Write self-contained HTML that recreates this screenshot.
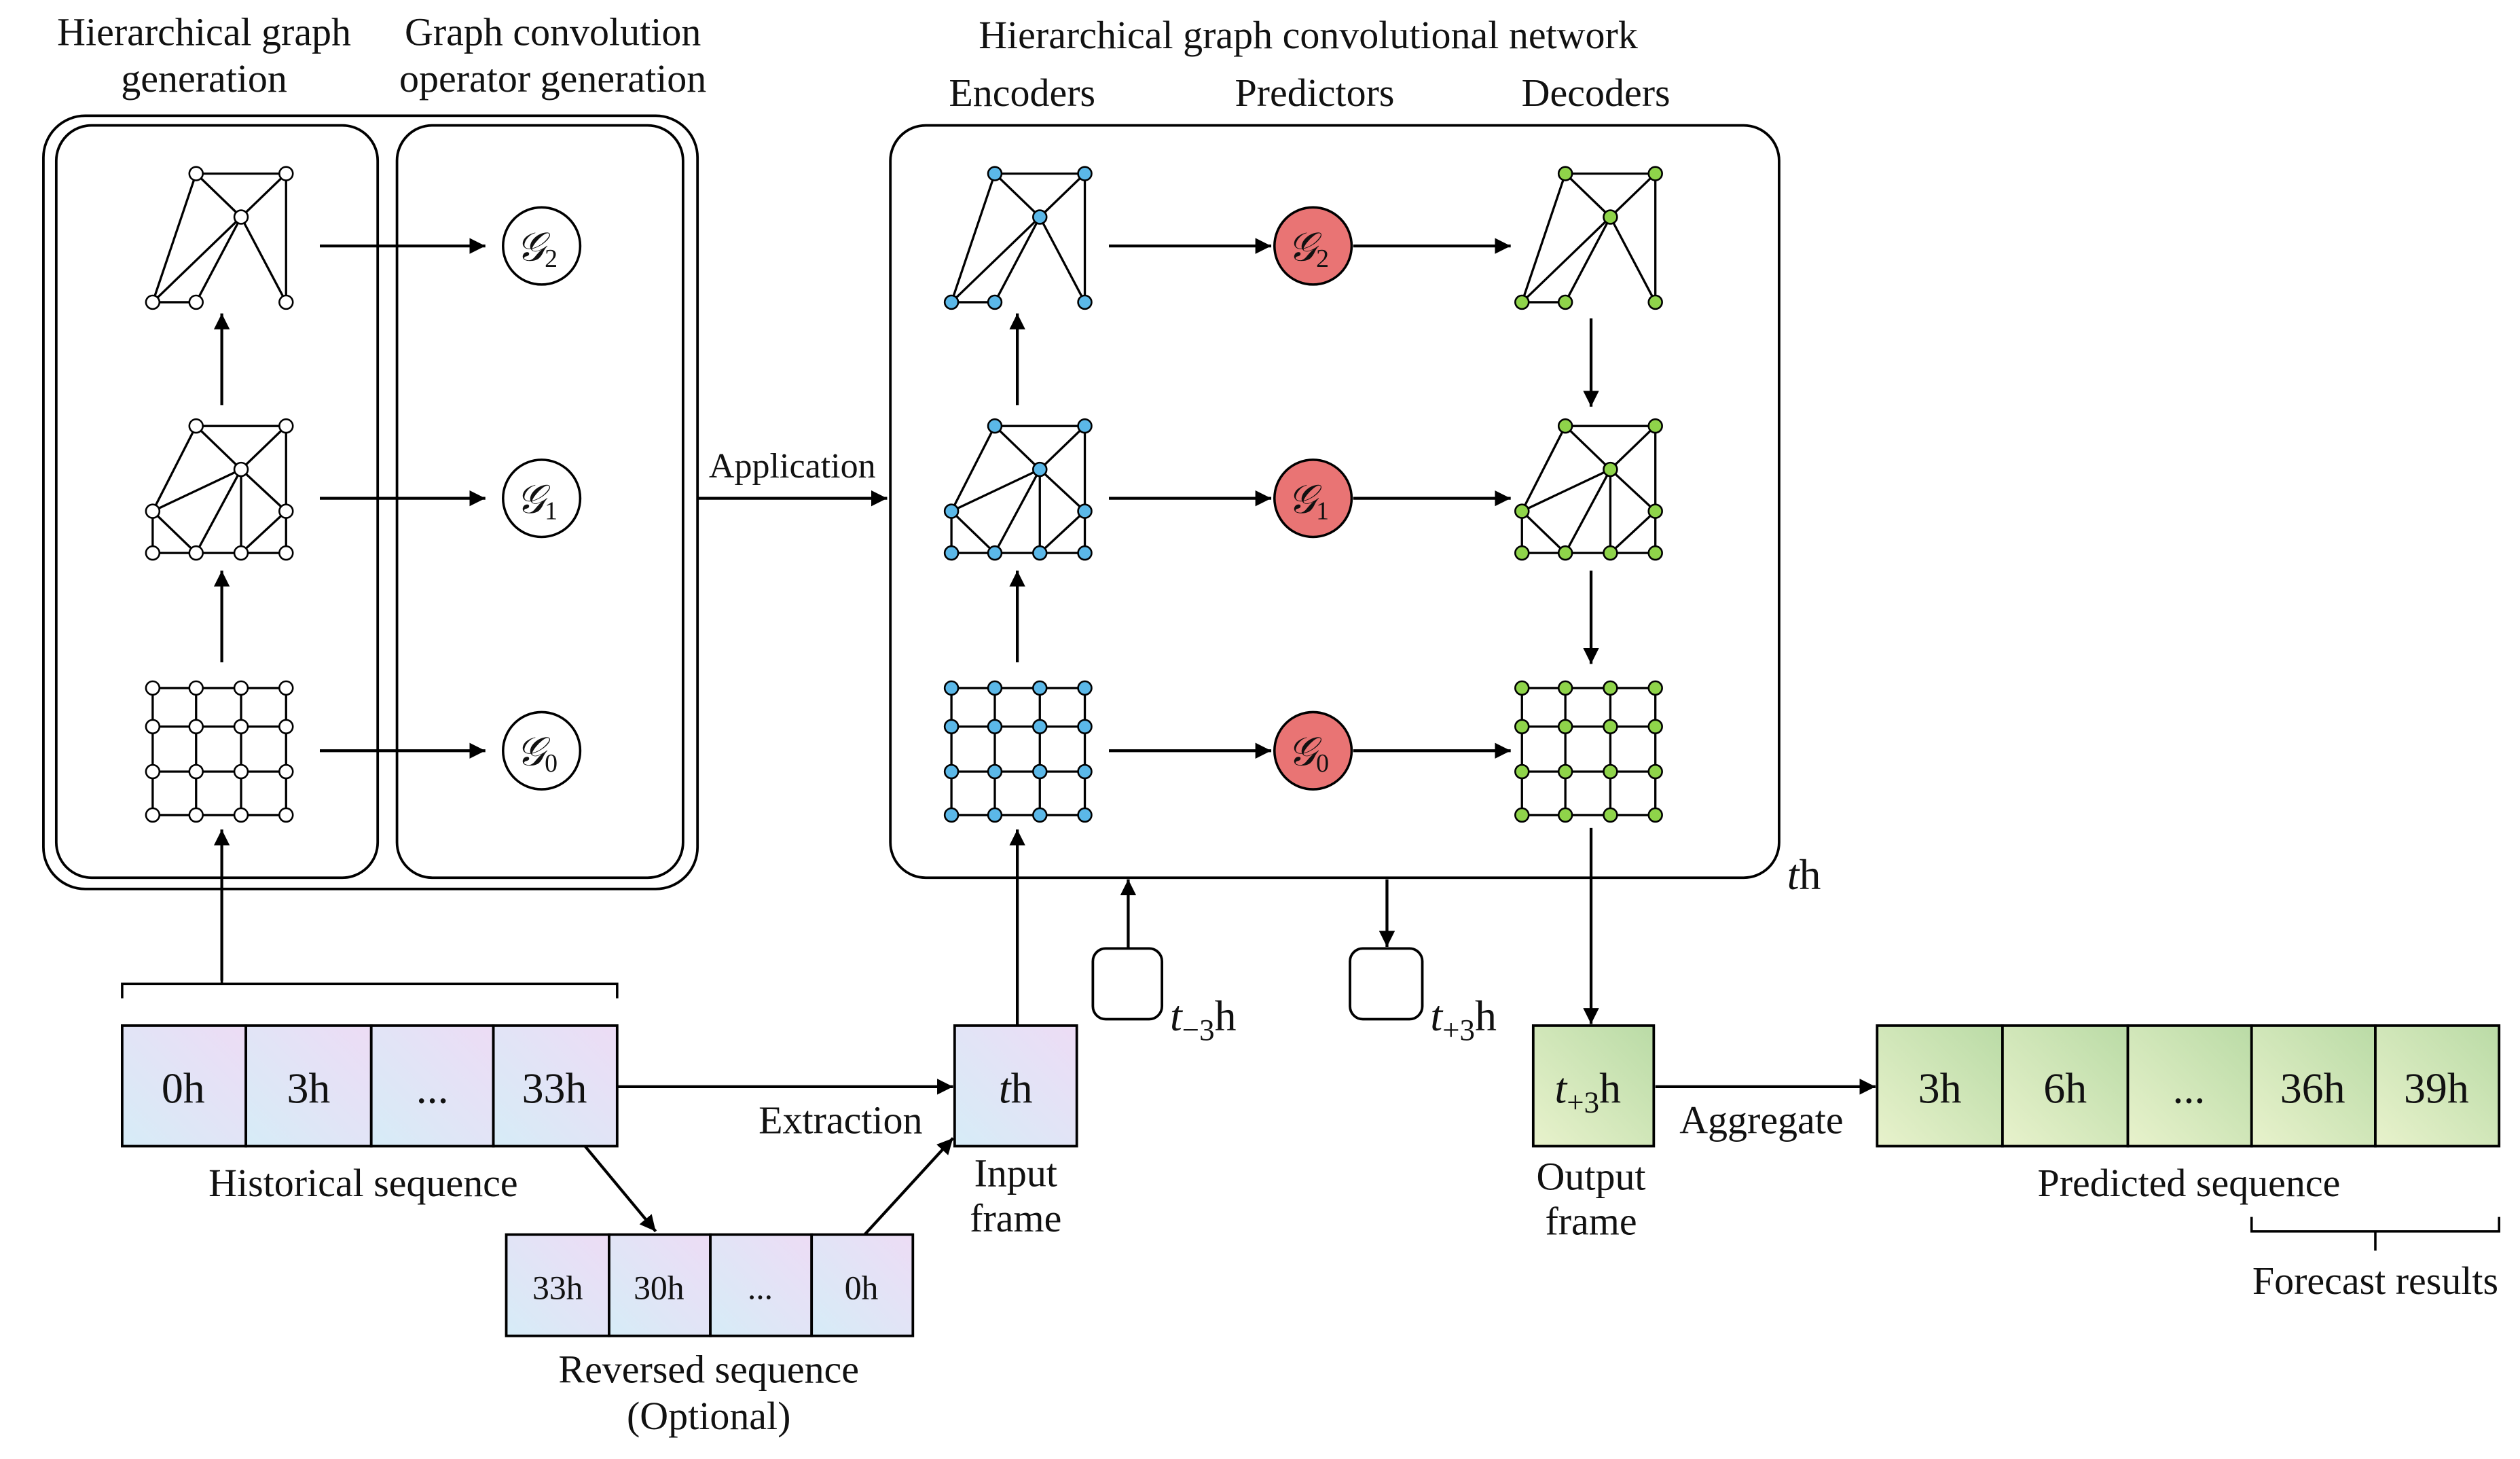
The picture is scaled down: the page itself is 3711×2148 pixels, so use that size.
<!DOCTYPE html>
<html><head><meta charset="utf-8"><style>
html,body{margin:0;padding:0;background:#fff;}
svg{display:block;}
text{font-family:"Liberation Serif",serif;fill:#111;}
</style></head><body>
<svg id="s" width="3711" height="2148" viewBox="0 0 1568 907.6" xmlns="http://www.w3.org/2000/svg">
<defs>
<marker id="ah" viewBox="0 0 10 10" refX="10" refY="5" markerWidth="5.5" markerHeight="5.5" orient="auto"><path d="M0,0 L10,5 L0,10 z" fill="#000"/></marker>
<linearGradient id="pg" x1="0" y1="1" x2="1" y2="0"><stop offset="0" stop-color="#d6ecf7"/><stop offset="1" stop-color="#eddcf5"/></linearGradient>
<linearGradient id="gg" x1="0" y1="1" x2="1" y2="0"><stop offset="0" stop-color="#e8f2cc"/><stop offset="1" stop-color="#badba6"/></linearGradient>
</defs>
<g fill="none" stroke="#000" stroke-width="1.6">
<rect x="27" y="72" width="407" height="481" rx="26"/>
<rect x="35" y="78" width="200" height="468" rx="22"/>
<rect x="247" y="78" width="178" height="468" rx="22"/>
<rect x="554" y="78" width="553" height="468" rx="22"/>
<rect x="680" y="590" width="43" height="44" rx="8"/>
<rect x="840" y="590" width="45" height="44" rx="8"/>
</g>
<g id="graphs" stroke="#000" stroke-width="1.4"></g>
<g stroke="#000" stroke-width="1.8" fill="none" marker-end="url(#ah)">
<line x1="199" y1="153" x2="302" y2="153"/><line x1="199" y1="310" x2="302" y2="310"/><line x1="199" y1="467" x2="302" y2="467"/>
<line x1="138" y1="252" x2="138" y2="195"/><line x1="138" y1="412" x2="138" y2="355"/><line x1="138" y1="610" x2="138" y2="516"/>
<line x1="434" y1="310" x2="552" y2="310"/>
<line x1="633" y1="252" x2="633" y2="195"/><line x1="633" y1="412" x2="633" y2="355"/><line x1="633" y1="638" x2="633" y2="516"/>
<line x1="690" y1="153" x2="791" y2="153"/><line x1="690" y1="310" x2="791" y2="310"/><line x1="690" y1="467" x2="791" y2="467"/>
<line x1="842" y1="153" x2="940" y2="153"/><line x1="842" y1="310" x2="940" y2="310"/><line x1="842" y1="467" x2="940" y2="467"/>
<line x1="990" y1="198" x2="990" y2="253"/><line x1="990" y1="355" x2="990" y2="413"/><line x1="990" y1="515" x2="990" y2="637"/>
<line x1="702" y1="590" x2="702" y2="547"/><line x1="863" y1="547" x2="863" y2="589"/>
<line x1="384" y1="676" x2="593" y2="676"/><line x1="364" y1="713" x2="408" y2="766"/><line x1="538" y1="768" x2="593" y2="708"/>
<line x1="1030" y1="676" x2="1167" y2="676"/>
</g>
<g fill="none" stroke="#000" stroke-width="1.5">
<path d="M76,621 V612 H384 V621 M138,612 V608"/>
<path d="M1401,757 V766 H1555 V757 M1478,766 V778"/>
</g>
<g stroke="#000" stroke-width="1.5">
<circle cx="337" cy="153" r="24" fill="#fff"/><circle cx="337" cy="310" r="24" fill="#fff"/><circle cx="337" cy="467" r="24" fill="#fff"/>
<circle cx="817" cy="153" r="24" fill="#e97474"/><circle cx="817" cy="310" r="24" fill="#e97474"/><circle cx="817" cy="467" r="24" fill="#e97474"/>
</g>
<g font-size="25" font-style="italic" text-anchor="middle">
<text x="334" y="162">𝒢<tspan font-size="16" dy="4" font-style="normal">2</tspan></text>
<text x="334" y="319">𝒢<tspan font-size="16" dy="4" font-style="normal">1</tspan></text>
<text x="334" y="476">𝒢<tspan font-size="16" dy="4" font-style="normal">0</tspan></text>
<text x="814" y="162">𝒢<tspan font-size="16" dy="4" font-style="normal">2</tspan></text>
<text x="814" y="319">𝒢<tspan font-size="16" dy="4" font-style="normal">1</tspan></text>
<text x="814" y="476">𝒢<tspan font-size="16" dy="4" font-style="normal">0</tspan></text>
</g>
<g stroke="#000" stroke-width="1.6">
<rect x="76" y="638" width="77" height="75" fill="url(#pg)"/><rect x="153" y="638" width="78" height="75" fill="url(#pg)"/><rect x="231" y="638" width="76" height="75" fill="url(#pg)"/><rect x="307" y="638" width="77" height="75" fill="url(#pg)"/>
<rect x="594" y="638" width="76" height="75" fill="url(#pg)"/>
<rect x="315" y="768" width="64" height="63" fill="url(#pg)"/><rect x="379" y="768" width="63" height="63" fill="url(#pg)"/><rect x="442" y="768" width="63" height="63" fill="url(#pg)"/><rect x="505" y="768" width="63" height="63" fill="url(#pg)"/>
<rect x="954" y="638" width="75" height="75" fill="url(#gg)"/>
<rect x="1168" y="638" width="78" height="75" fill="url(#gg)"/><rect x="1246" y="638" width="78" height="75" fill="url(#gg)"/><rect x="1324" y="638" width="77" height="75" fill="url(#gg)"/><rect x="1401" y="638" width="77" height="75" fill="url(#gg)"/><rect x="1478" y="638" width="77" height="75" fill="url(#gg)"/>
</g>
<g font-size="27" text-anchor="middle">
<text x="114" y="686">0h</text><text x="192" y="686">3h</text><text x="269" y="686">...</text><text x="345" y="686">33h</text>
<text x="632" y="686"><tspan font-style="italic">t</tspan>h</text>
<text x="988" y="686"><tspan font-style="italic">t</tspan><tspan font-size="19" dy="6">+3</tspan><tspan dy="-6">h</tspan></text>
<text x="1207" y="686">3h</text><text x="1285" y="686">6h</text><text x="1362" y="686">...</text><text x="1439" y="686">36h</text><text x="1516" y="686">39h</text>
</g>
<g font-size="21" text-anchor="middle">
<text x="347" y="808">33h</text><text x="410" y="808">30h</text><text x="473" y="808">...</text><text x="536" y="808">0h</text>
</g>
<g font-size="24.5" text-anchor="middle">
<text x="127" y="28">Hierarchical graph</text><text x="127" y="57">generation</text>
<text x="344" y="28">Graph convolution</text><text x="344" y="57">operator generation</text>
<text x="814" y="30">Hierarchical graph convolutional network</text>
<text x="636" y="66">Encoders</text><text x="818" y="66">Predictors</text><text x="993" y="66">Decoders</text>
<text x="226" y="744">Historical sequence</text>
<text x="523" y="705">Extraction</text>
<text x="632" y="738">Input</text><text x="632" y="766">frame</text>
<text x="990" y="740">Output</text><text x="990" y="768">frame</text>
<text x="1096" y="705">Aggregate</text>
<text x="1362" y="744">Predicted sequence</text>
<text x="1478" y="805">Forecast results</text>
<text x="441" y="860">Reversed sequence</text><text x="441" y="889">(Optional)</text>
</g>
<text x="493" y="297" font-size="22" text-anchor="middle">Application</text>
<text x="1112" y="553" font-size="27"><tspan font-style="italic">t</tspan>h</text>
<text x="728" y="641" font-size="27"><tspan font-style="italic">t</tspan><tspan font-size="19" dy="6">−3</tspan><tspan dy="-6">h</tspan></text>
<text x="890" y="641" font-size="27"><tspan font-style="italic">t</tspan><tspan font-size="19" dy="6">+3</tspan><tspan dy="-6">h</tspan></text>
</svg>
<script>
(function(){
var g=document.getElementById('graphs'),NS='http://www.w3.org/2000/svg';
var X=[95,122,150,178];
function ln(a,b,c,d){var l=document.createElementNS(NS,'line');l.setAttribute('x1',a);l.setAttribute('y1',b);l.setAttribute('x2',c);l.setAttribute('y2',d);g.appendChild(l);}
function nd(x,y,f){var c=document.createElementNS(NS,'circle');c.setAttribute('cx',x);c.setAttribute('cy',y);c.setAttribute('r',4.2);c.setAttribute('fill',f);c.setAttribute('stroke-width',1.1);g.appendChild(c);}
function draw(dx,f){
 var top={n:[[122,108],[178,108],[150,135],[95,188],[122,188],[178,188]],e:[[0,1],[0,2],[1,2],[1,5],[0,3],[3,2],[3,4],[4,2],[2,5]]};
 var mid={n:[[122,265],[178,265],[150,292],[95,318],[178,318],[95,344],[122,344],[150,344],[178,344]],e:[[0,1],[0,2],[1,2],[0,3],[1,4],[3,2],[3,5],[3,6],[6,2],[2,7],[2,4],[4,7],[4,8],[5,6],[6,7],[7,8]]};
 [top,mid].forEach(function(G){G.e.forEach(function(e){ln(G.n[e[0]][0]+dx,G.n[e[0]][1],G.n[e[1]][0]+dx,G.n[e[1]][1]);});});
 var Y=[428,452,480,507];
 for(var i=0;i<4;i++){ln(X[0]+dx,Y[i],X[3]+dx,Y[i]);ln(X[i]+dx,Y[0],X[i]+dx,Y[3]);}
 [top,mid].forEach(function(G){G.n.forEach(function(p){nd(p[0]+dx,p[1],f);});});
 for(var i=0;i<4;i++)for(var j=0;j<4;j++)nd(X[i]+dx,Y[j],f);
}
draw(0,'#fff');draw(497,'#5bb8e8');draw(852,'#8fd44a');
})();
</script>
</body></html>
